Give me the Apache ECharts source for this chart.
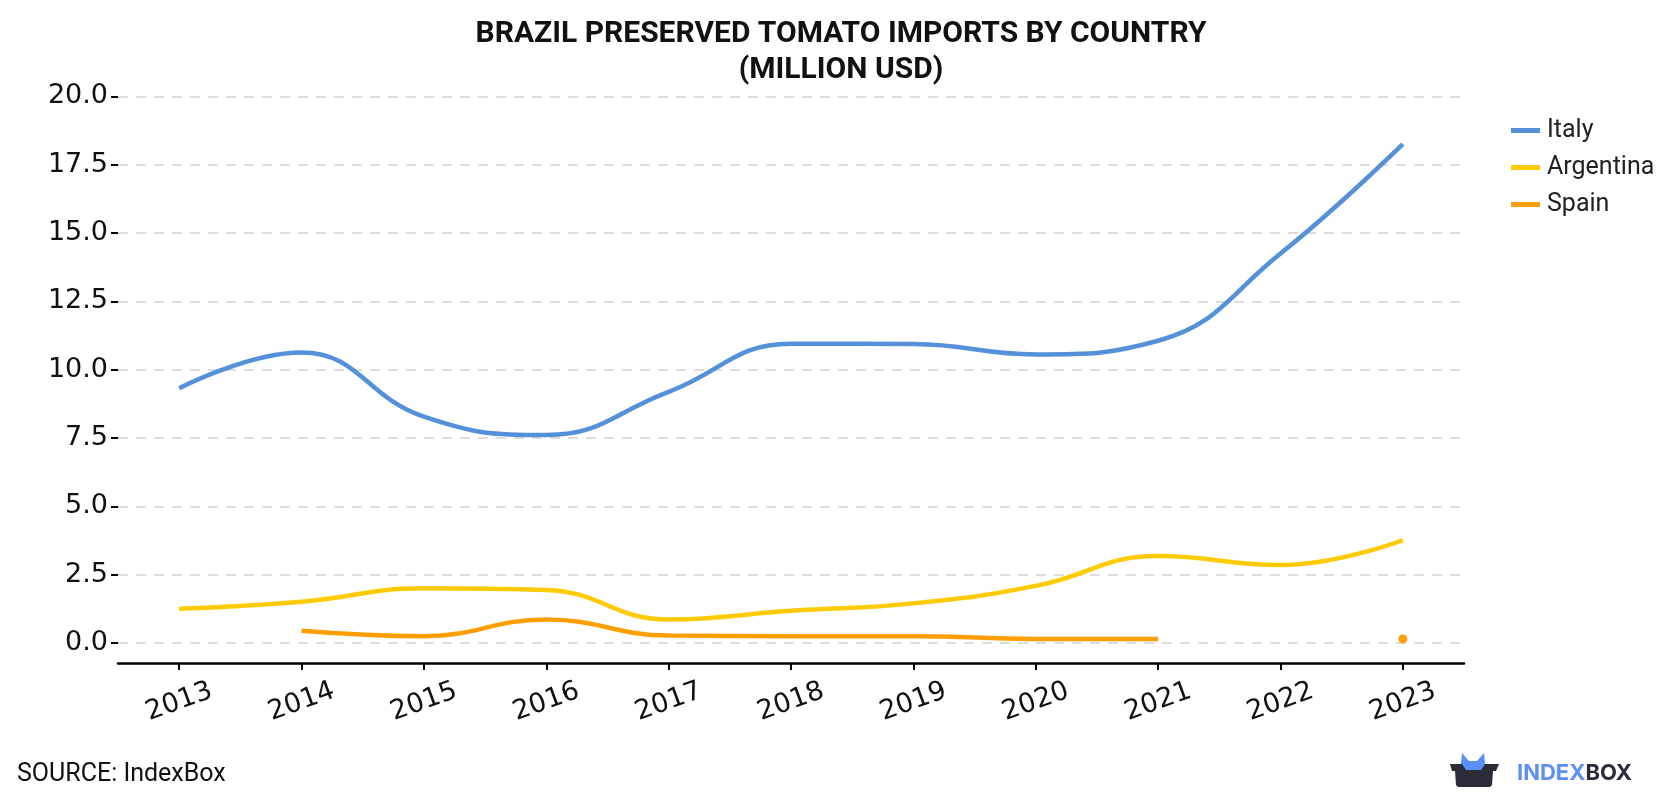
<!DOCTYPE html>
<html>
<head>
<meta charset="utf-8">
<script src="https://cdn.jsdelivr.net/npm/echarts@6/dist/echarts.min.js"></script>
<style>html,body{margin:0;padding:0;background:#fff;}#c{width:1680px;height:800px;}</style>
</head>
<body>
<div id="c"></div>
<script>
const years = ['2013','2014','2015','2016','2017','2018','2019','2020','2021','2022','2023'];
const italy = [9.32, 10.63, 8.28, 7.61, 9.19, 10.95, 10.94, 10.56, 11.06, 14.25, 18.25];
const argentina = [1.25, 1.51, 2.0, 1.94, 0.86, 1.18, 1.45, 2.09, 3.18, 2.85, 3.76];
const spain = [null, 0.45, 0.25, 0.86, 0.27, 0.25, 0.25, 0.15, 0.15, null, 0.15];

const colors = {Italy:'#5591d9', Argentina:'#fecb00', Spain:'#ff9e00'};

// isolated Spain points (neighbours null) shown as dots
const spainDots = spain.map((v,i)=>{
  const prev = i>0 ? spain[i-1] : null;
  const next = i<spain.length-1 ? spain[i+1] : null;
  return (v!=null && prev==null && next==null) ? v : null;
});

const chart = echarts.init(document.getElementById('c'), null, {renderer:'canvas'});
chart.setOption({
  backgroundColor:'#fff',
  animation:false,
  title:{
    text:'BRAZIL PRESERVED TOMATO IMPORTS BY COUNTRY\n(MILLION USD)',
    left:836, top:11, textAlign:'center',
    textStyle:{fontFamily:'Roboto', fontWeight:'bold', fontSize:30, lineHeight:36, color:'#111'}
  },
  legend:{
    data:['Italy','Argentina','Spain'],
    orient:'vertical', left:1506, top:113,
    icon:'rect', itemWidth:29, itemHeight:5, itemGap:12,
    textStyle:{fontFamily:'Roboto', fontSize:25, color:'#222', padding:[0,0,0,2]}
  },
  grid:{left:118, right:216, top:96.4, bottom:157, containLabel:false},
  xAxis:{
    type:'category', data:years, boundaryGap:true, offset:20,
    axisLine:{show:true, onZero:false, lineStyle:{color:'#000', width:2.5}},
    axisTick:{show:true, alignWithLabel:true, length:7, lineStyle:{color:'#000', width:2}},
    axisLabel:{rotate:20, align:'center', verticalAlign:'middle', fontFamily:'DejaVu Sans', fontSize:27, color:'#111', margin:39, interval:0},
    splitLine:{show:false}
  },
  yAxis:{
    type:'value', min:0, max:20, interval:2.5,
    axisLine:{show:false},
    axisTick:{show:true, length:7, lineStyle:{color:'#000', width:2}},
    axisLabel:{fontFamily:'DejaVu Sans', fontSize:27, color:'#111', margin:10,
      formatter:(v)=>v.toFixed(1)},
    splitLine:{show:true, lineStyle:{color:'#dcdcdc', type:[10,8], width:2}}
  },
  series:[
    {name:'Italy', type:'line', data:italy, smooth:0.45, showSymbol:false, symbol:'none',
     lineStyle:{width:4.5, color:colors.Italy}, itemStyle:{color:colors.Italy}},
    {name:'Argentina', type:'line', data:argentina, smooth:0.45, showSymbol:false, symbol:'none',
     lineStyle:{width:4.5, color:colors.Argentina}, itemStyle:{color:colors.Argentina}},
    {name:'Spain', type:'line', data:spain, smooth:0.45, showSymbol:false, symbol:'none',
     lineStyle:{width:4.5, color:colors.Spain}, itemStyle:{color:colors.Spain}},
    {name:'Spain', type:'scatter', data:spainDots, symbol:'circle', symbolSize:9,
     itemStyle:{color:colors.Spain, opacity:1}}
  ],
  graphic:[
    {type:'text', left:17, top:762, style:{text:'SOURCE: IndexBox', font:'25px Roboto', fill:'#111'}},
    {type:'polygon', shape:{points:[[1460,773],[1462,753],[1469,761],[1477,761],[1484,753],[1486,773]]}, style:{fill:'#5b8ff9'}},
    {type:'polygon', shape:{points:[[1450,764],[1462,764],[1466,770],[1481,770],[1485,764],[1499,764],[1496,771],[1493,771],[1492,785],[1490,787],[1458,787],[1456,785],[1455,771],[1452,771]]}, style:{fill:'#2b2c38'}},
    {type:'text', left:1517, top:762, style:{
      text:'{a|INDEX}{b|BOX}',
      rich:{a:{fontFamily:'Inter', fontWeight:'bold', fontSize:22, fill:'#5b8ff9', color:'#5b8ff9'},
            b:{fontFamily:'Inter', fontWeight:'bold', fontSize:22, fill:'#2b2c38', color:'#2b2c38'}}
    }}
  ]
});
</script>
</body>
</html>
